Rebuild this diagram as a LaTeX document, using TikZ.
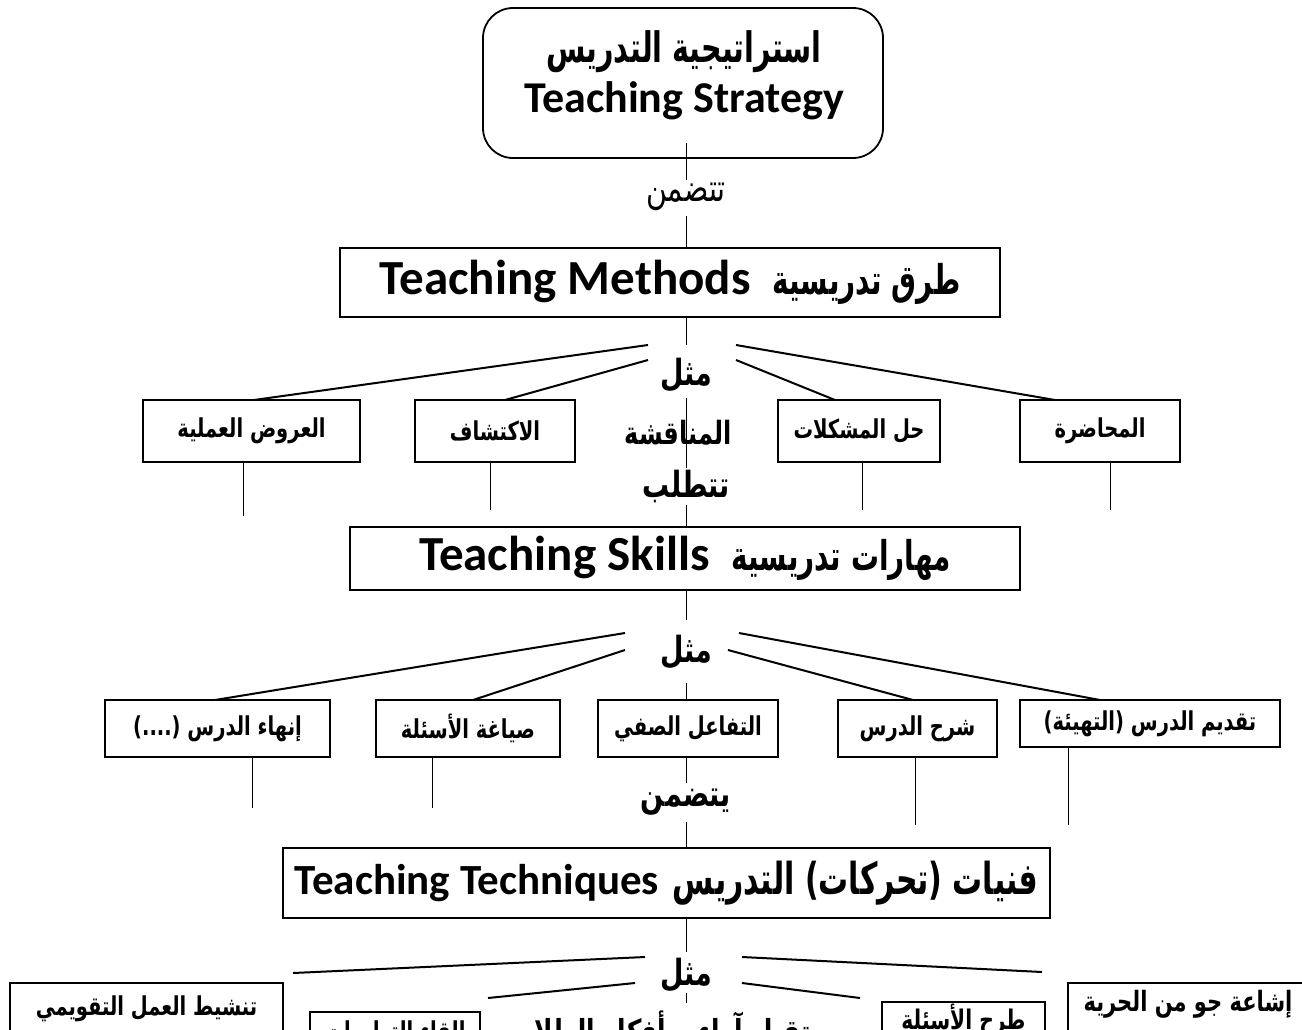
\documentclass[tikz,border=0pt]{standalone}
\usepackage{fontspec}
\setmainfont{Carlito}
\newfontfamily\arabicfont[Script=Arabic, FakeStretch=0.75]{DejaVu Sans}
\newfontfamily\arabichead[Script=Arabic, FakeStretch=0.68]{DejaVu Sans}
\TeXXeTstate=1
\newcommand{\rtl}[1]{{\arabicfont\beginR#1\endR}}
\newcommand{\rtlhead}[1]{{\arabichead\beginR#1\endR}}

\tikzset{
  frame/.style={draw, line width=1.8pt, fill=white, inner sep=0pt, outer sep=0pt},
  headen/.style={font=\bfseries\fontsize{44}{48}\selectfont},
  headar/.style={font=\bfseries\fontsize{42}{46}\selectfont},
  heading/.style={frame, font=\bfseries\fontsize{49}{54}\selectfont},
  joinword/.style={font=\arabicfont\bfseries\fontsize{36}{40}\selectfont, inner sep=1pt},
  item/.style={frame, font=\arabicfont\bfseries\fontsize{26}{30}\selectfont},
  lowitem/.style={frame, anchor=north, inner xsep=0pt, inner ysep=8pt, text height=24pt, text depth=60pt,
    font=\arabicfont\bfseries\fontsize{26}{30}\selectfont},
  spine/.style={line width=1pt},
  branch/.style={line width=2pt},
}

\begin{document}
\begin{tikzpicture}[x=1pt,y=-1pt]
\useasboundingbox (0,0) rectangle (1302,1029);
\clip (0,0) rectangle (1302,1029);

% ---- top: strategy
\node[frame, rounded corners=30pt, minimum width=400, minimum height=150] (strategy) at (683,83) {};
\node[headar] (strategyAr) at (684,52) {\rtlhead{استراتيجية التدريس}};
\node[headen] (strategyEn) at (684,101) {Teaching Strategy};
\node[joinword, font=\arabicfont\fontsize{38}{42}\selectfont] (includes1) at (686,197) {\rtl{تتضمن}};

% ---- methods
\node[heading, minimum width=660, minimum height=69] (methods) at (670,282.5)
  {Teaching Methods\hspace{22pt}{\fontsize{41}{46}\selectfont\rtlhead{طرق تدريسية}}};
\node[joinword] (like1) at (686,375) {\rtl{مثل}};
\node[item, minimum width=217, minimum height=62] (demos) at (251.5,431) {\rtl{العروض العملية}};
\node[item, minimum width=160, minimum height=62] (discovery) at (495,431) {\rtl{الاكتشاف}};
\node[joinword, font=\arabicfont\bfseries\fontsize{32}{36}\selectfont] (discussion) at (678,433) {\rtl{المناقشة}};
\node[item, minimum width=162, minimum height=62] (problems) at (859,431) {\rtl{حل المشكلات}};
\node[item, minimum width=160, minimum height=62] (lecture) at (1100,431) {\rtl{المحاضرة}};
\node[joinword] (requires) at (686,486) {\rtl{تتطلب}};

% ---- skills
\node[heading, minimum width=670, minimum height=63] (skills) at (685,558.5)
  {Teaching Skills\hspace{22pt}{\fontsize{41}{46}\selectfont\rtlhead{مهارات تدريسية}}};
\node[joinword] (like2) at (686,652) {\rtl{مثل}};
\node[item, minimum width=225, minimum height=57] (closing) at (217.5,728.5) {\rtl{إنهاء الدرس (....)}};
\node[item, minimum width=184, minimum height=57] (wording) at (468,728.5) {\rtl{صياغة الأسئلة}};
\node[item, minimum width=180, minimum height=57] (interaction) at (688,728.5) {\rtl{التفاعل الصفي}};
\node[item, minimum width=159, minimum height=57] (explain) at (917.5,728.5) {\rtl{شرح الدرس}};
\node[item, minimum width=260, minimum height=47] (intro) at (1150,723.5) {\rtl{تقديم الدرس (التهيئة)}};
\node[joinword] (includes2) at (686,802) {\rtl{يتضمن}};

% ---- techniques
\node[heading, font=\bfseries\fontsize{43}{48}\selectfont, minimum width=767, minimum height=70] (techniques) at (666.5,883)
  {Teaching Techniques\hspace{14pt}{\fontsize{44}{48}\selectfont\rtlhead{فنيات (تحركات) التدريس}}};
\node[joinword] (like3) at (686,975) {\rtl{مثل}};
\node[lowitem, minimum width=273] (activate) at (146.5,983) {\rtl{تنشيط العمل التقويمي}};
\node[lowitem, minimum width=170, inner ysep=10pt, text height=18pt] (instructions) at (395,1012) {\rtl{إلقاء التعليمات}};
\node[joinword, anchor=base, font=\arabicfont\bfseries\fontsize{33}{38}\selectfont] (accept) at (660,1043) {\rtl{تقبل آراء و أفكار الطلاب}};
\node[lowitem, minimum width=163, inner ysep=6pt, text height=21pt, font=\arabicfont\bfseries\fontsize{27}{31}\selectfont] (asking) at (963.5,1002) {\rtl{طرح الأسئلة}};
\node[lowitem, minimum width=240, text height=20pt, font=\arabicfont\bfseries\fontsize{28}{32}\selectfont] (freedom) at (1188,983) {\rtl{إشاعة جو من الحرية}};

% ---- central spine
\coordinate (s0) at (686,143);
\coordinate (s1) at (686,180);
\coordinate (s2) at (686,216);
\coordinate (s3) at (686,345);
\coordinate (s4) at (686,398);
\coordinate (s5) at (686,468);
\coordinate (s6) at (686,505);
\coordinate (s7) at (686,620);
\coordinate (s8) at (686,683);
\coordinate (s9) at (686,783);
\coordinate (s10) at (686,822);
\coordinate (s11) at (686,952);
\coordinate (s12) at (686,993);
\coordinate (s13) at (686,1003);
\draw[spine] (s0) -- (s1);
\draw[spine] (s2) -- (s2 |- methods.north);
\draw[spine] (s3 |- methods.south) -- (s3);
\draw[spine] (s4) -- (s5);
\draw[spine] (s6) -- (s6 |- skills.north);
\draw[spine] (s7 |- skills.south) -- (s7);
\draw[spine] (s8) -- (s8 |- interaction.north);
\draw[spine] (s9 |- interaction.south) -- (s9);
\draw[spine] (s10) -- (s10 |- techniques.north);
\draw[spine] (s11 |- techniques.south) -- (s11);
\draw[spine] (s12) -- (s13);

% ---- branches of the methods row
\coordinate (m1lo) at (648,345);
\coordinate (m1li) at (648,360);
\coordinate (m1ro) at (736,345);
\coordinate (m1ri) at (736,360);
\draw[branch] (m1lo) -- ([xshift=2.5pt]demos.north);
\draw[branch] (m1li) -- ([xshift=10pt]discovery.north);
\draw[branch] (m1ri) -- ([xshift=-24pt]problems.north);
\draw[branch] (m1ro) -- ([xshift=-45pt]lecture.north);
\draw[spine] ([xshift=-8.5pt]demos.south) -- ++(0,54);
\draw[spine] ([xshift=-5pt]discovery.south) -- ++(0,48);
\draw[spine] ([xshift=3pt]problems.south) -- ++(0,48);
\draw[spine] ([xshift=10pt]lecture.south) -- ++(0,48);

% ---- branches of the skills row
\coordinate (m2lo) at (625,633);
\coordinate (m2li) at (625,650);
\coordinate (m2ro) at (739,633);
\coordinate (m2ri) at (728,650);
\draw[branch] (m2lo) -- ([xshift=-2.5pt]closing.north);
\draw[branch] (m2li) -- ([xshift=5pt]wording.north);
\draw[branch] (m2ri) -- ([xshift=-4.5pt]explain.north);
\draw[branch] (m2ro) -- ([xshift=-50pt]intro.north);
\draw[spine] ([xshift=34.5pt]closing.south) -- ++(0,51);
\draw[spine] ([xshift=-36pt]wording.south) -- ++(0,51);
\draw[spine] ([xshift=-2.5pt]explain.south) -- ++(0,68);
\draw[spine] ([xshift=-82pt]intro.south) -- ++(0,78);

% ---- branches of the techniques row
\coordinate (m3lo) at (645,957);
\coordinate (m3loe) at (293,973);
\coordinate (m3li) at (635,983);
\coordinate (m3lie) at (488,998);
\coordinate (m3ro) at (742,957);
\coordinate (m3roe) at (1042,972);
\coordinate (m3ri) at (742,983);
\coordinate (m3rie) at (860,998);
\draw[branch] (m3lo) -- (m3loe);
\draw[branch] (m3li) -- (m3lie);
\draw[branch] (m3ro) -- (m3roe);
\draw[branch] (m3ri) -- (m3rie);
\end{tikzpicture}
\end{document}
